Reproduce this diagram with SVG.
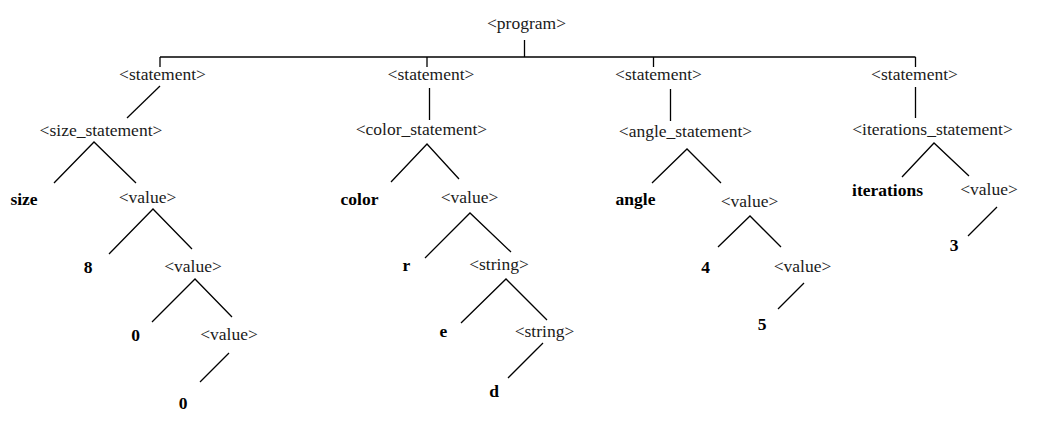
<svg xmlns="http://www.w3.org/2000/svg" width="1047" height="425" viewBox="0 0 1047 425">
<style>
text{font-family:"Liberation Serif","Times New Roman",serif;font-size:17.5px;fill:#1a1a1a;text-anchor:middle}
.t{font-weight:bold;fill:#000}
.c line,.c polyline{stroke:#000;stroke-width:1.3;fill:none}
</style>
<rect width="1047" height="425" fill="#fff"/>
<g class="c" id="connectors">
<line x1="524.5" y1="40" x2="524.5" y2="57"/>
<line x1="160" y1="57" x2="915.5" y2="57"/>
<line x1="160" y1="57" x2="160" y2="67"/>
<line x1="427" y1="57" x2="427" y2="67"/>
<line x1="653.5" y1="57" x2="653.5" y2="67"/>
<line x1="915.5" y1="57" x2="915.5" y2="67"/>
<line x1="160" y1="86" x2="127" y2="118"/>
<line x1="429.5" y1="88" x2="429.5" y2="120"/>
<line x1="670.5" y1="89" x2="670.5" y2="121"/>
<line x1="915.5" y1="87" x2="915.5" y2="118"/>
<polyline points="54,183 94,142 136,183"/>
<polyline points="391,182 427,144 459,179"/>
<polyline points="652,183 687,149 721,183"/>
<polyline points="902,177 934,143 969,176"/>
<polyline points="109,254 153,209 192,249"/>
<polyline points="425,258 470,213 511,252"/>
<polyline points="718,247 750,216 781,247"/>
<line x1="997" y1="207" x2="968" y2="236"/>
<polyline points="152,322 195,279 232,317"/>
<polyline points="461,323 506,279 547,320"/>
<line x1="804" y1="283" x2="778" y2="309"/>
<line x1="229" y1="353" x2="200" y2="382"/>
<line x1="543" y1="343" x2="508" y2="378"/>
</g>
<g id="program"><text x="526.5" y="29">&lt;program&gt;</text></g>
<g id="stmt1"><text x="162.5" y="80">&lt;statement&gt;</text></g>
<g id="stmt2"><text x="431" y="80">&lt;statement&gt;</text></g>
<g id="stmt3"><text x="658.5" y="80">&lt;statement&gt;</text></g>
<g id="stmt4"><text x="914.5" y="80">&lt;statement&gt;</text></g>
<g id="size_statement"><text x="101" y="136">&lt;size_statement&gt;</text></g>
<g id="color_statement"><text x="421.5" y="135">&lt;color_statement&gt;</text></g>
<g id="angle_statement"><text x="685.5" y="137">&lt;angle_statement&gt;</text></g>
<g id="iterations_statement"><text x="932.5" y="135">&lt;iterations_statement&gt;</text></g>
<g id="size"><text class="t" x="24" y="205">size</text></g>
<g id="size_value1"><text x="147.5" y="203">&lt;value&gt;</text></g>
<g id="color"><text class="t" x="359.5" y="205">color</text></g>
<g id="color_value"><text x="469.5" y="203">&lt;value&gt;</text></g>
<g id="angle"><text class="t" x="635.5" y="205">angle</text></g>
<g id="angle_value1"><text x="749.5" y="207">&lt;value&gt;</text></g>
<g id="iterations"><text class="t" x="887.5" y="196">iterations</text></g>
<g id="iter_value"><text x="989" y="195">&lt;value&gt;</text></g>
<g id="n8"><text class="t" x="88" y="273">8</text></g>
<g id="size_value2"><text x="193" y="272">&lt;value&gt;</text></g>
<g id="r"><text class="t" x="406.5" y="271">r</text></g>
<g id="string1"><text x="499" y="270">&lt;string&gt;</text></g>
<g id="n4"><text class="t" x="705.5" y="273">4</text></g>
<g id="angle_value2"><text x="802.5" y="272">&lt;value&gt;</text></g>
<g id="n3"><text class="t" x="954" y="251">3</text></g>
<g id="n0a"><text class="t" x="135.5" y="341">0</text></g>
<g id="size_value3"><text x="229" y="340">&lt;value&gt;</text></g>
<g id="e"><text class="t" x="443.5" y="337">e</text></g>
<g id="string2"><text x="544.5" y="337">&lt;string&gt;</text></g>
<g id="n5"><text class="t" x="762" y="330">5</text></g>
<g id="n0b"><text class="t" x="183" y="409">0</text></g>
<g id="d"><text class="t" x="494" y="397">d</text></g>
</svg>
